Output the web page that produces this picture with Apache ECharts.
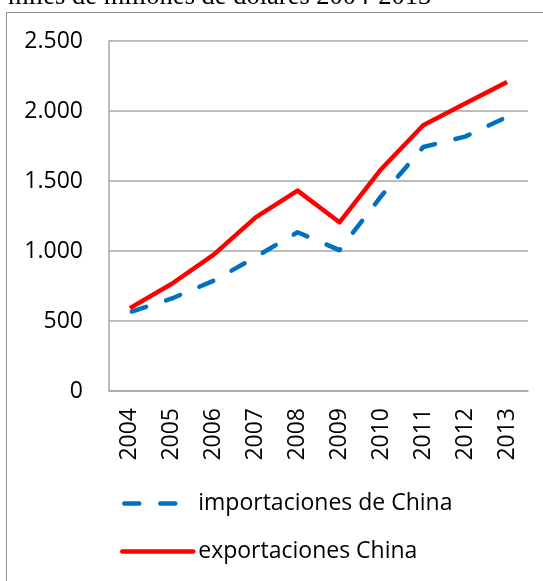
<!DOCTYPE html>
<html>
<head>
<meta charset="utf-8">
<script src="https://cdn.jsdelivr.net/npm/echarts@6/dist/echarts.min.js"></script>
<style>
  html, body { margin: 0; padding: 0; background: #fff; }
  #main { width: 543px; height: 581px; }
</style>
</head>
<body>
<div id="main"></div>
<script>
// datos (miles de millones de dolares)
const years = ['2004', '2005', '2006', '2007', '2008', '2009', '2010', '2011', '2012', '2013'];
const importaciones = [563, 661, 788, 957, 1134, 1006, 1393, 1743, 1817, 1958];
const exportaciones = [592, 766, 974, 1240, 1431, 1205, 1586, 1898, 2053, 2208];
const yTicks = [0, 500, 1000, 1500, 2000, 2500];

const chart = echarts.init(document.getElementById('main'));
const font = 'Open Sans';

const option = {
    animation: false,
    graphic: [
        {
            type: 'rect',
            shape: { x: 6.5, y: 12.5, width: 600, height: 600 },
            style: { fill: 'none', stroke: '#8c8c8c', lineWidth: 1 }
        },
        {
            type: 'text',
            x: 8, y: -16,
            style: {
                text: 'miles de millones de dólares 2004-2013',
                font: '26.5px "Liberation Serif"',
                fill: '#000'
            }
        }
    ],
    grid: { left: 109, right: 15, top: 41, bottom: 190 },
    xAxis: {
        type: 'category',
        data: years,
        boundaryGap: true,
        axisLine: { lineStyle: { color: '#a6a6a6', width: 1.5 } },
        axisTick: { show: false },
        axisLabel: { rotate: 90, margin: 17, color: '#000', fontSize: 23, fontFamily: font }
    },
    yAxis: {
        type: 'value',
        min: yTicks[0],
        max: yTicks[yTicks.length - 1],
        interval: 500,
        axisLine: { show: true, lineStyle: { color: '#a6a6a6', width: 1.5 } },
        axisTick: { show: false },
        splitLine: { lineStyle: { color: '#a6a6a6', width: 1.5 } },
        axisLabel: {
            margin: 26, color: '#000', fontSize: 23, fontFamily: font,
            formatter: v => String(v).replace(/\B(?=(\d{3})+(?!\d))/g, '.')
        }
    },
    legend: {
        orient: 'vertical',
        left: 120,
        top: 492,
        padding: 0,
        itemWidth: 71,
        itemHeight: 23,
        itemGap: 25,
        itemStyle: { color: 'transparent', borderWidth: 0, opacity: 0 },
        lineStyle: { width: 4.5, cap: 'round' },
        textStyle: { fontSize: 23, fontFamily: font, color: '#000' },
        data: ['importaciones de China', 'exportaciones China']
    },
    series: [
        {
            name: 'importaciones de China',
            type: 'line',
            data: importaciones,
            symbol: 'none',
            lineStyle: { color: '#0070c0', width: 4.5, type: [15, 21], dashOffset: -2, cap: 'round', join: 'round' },
            itemStyle: { color: '#0070c0' }
        },
        {
            name: 'exportaciones China',
            type: 'line',
            data: exportaciones,
            symbol: 'none',
            lineStyle: { color: '#ff0000', width: 4.5, join: 'round' },
            itemStyle: { color: '#ff0000' }
        }
    ]
};
chart.setOption(option);
</script>
</body>
</html>
